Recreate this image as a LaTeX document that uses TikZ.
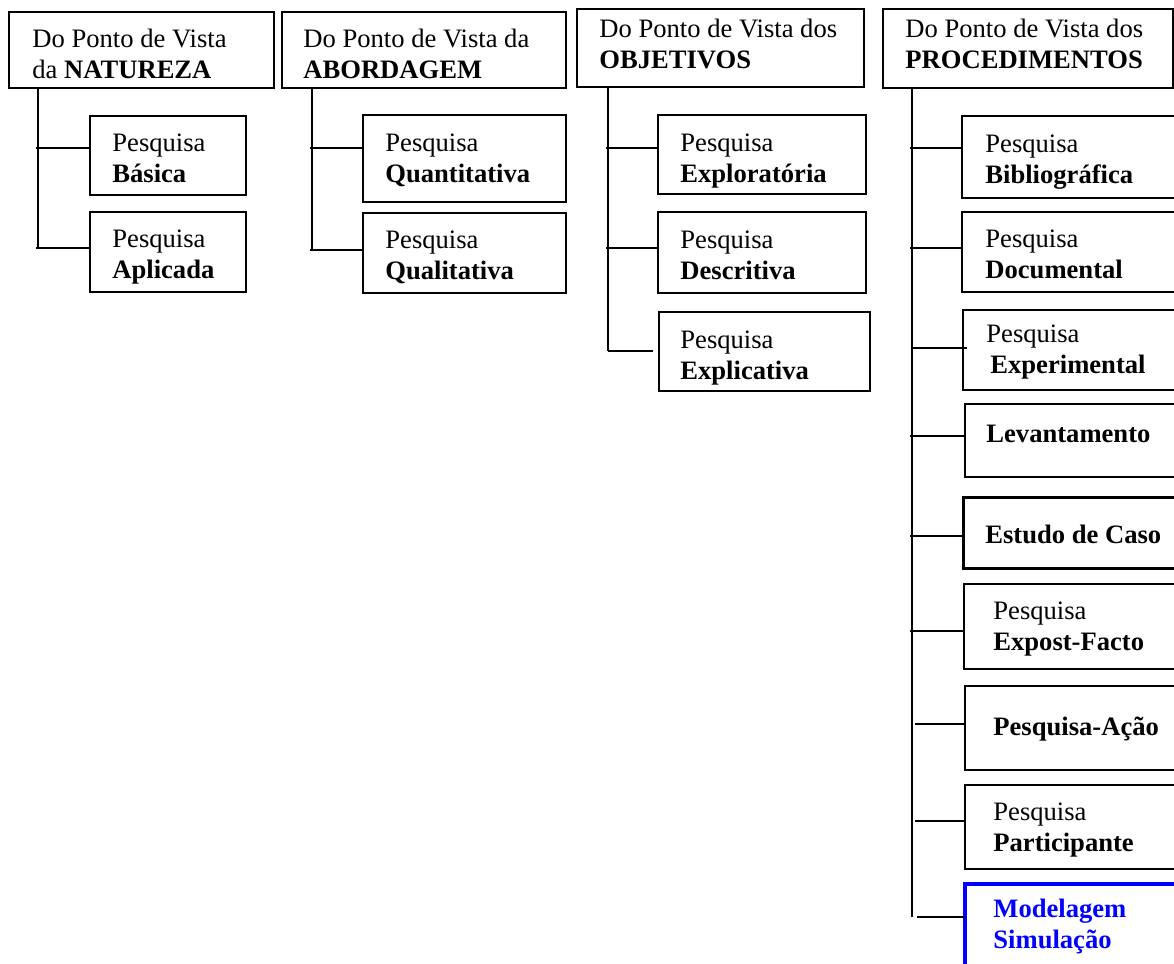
\documentclass[tikz,border=0pt]{standalone}
\usepackage{fontspec}
\setmainfont{Liberation Serif}
\usetikzlibrary{fit}
\definecolor{modblue}{RGB}{0,0,255}
\begin{document}
\begin{tikzpicture}[x=0.5pt,y=-0.5pt,
  box/.style={draw=black, line width=1pt, inner sep=0pt, outer sep=0pt},
  thickbox/.style={box, line width=1.5pt},
  bluebox/.style={box, draw=modblue, line width=1.6pt},
  txt/.style={anchor=base west, inner sep=0pt, align=left, font=\fontsize{13.3pt}{15.3pt}\selectfont},
  conn/.style={draw=black, line width=1pt}]
\useasboundingbox (0,0) rectangle (1174,964);

% headers (two-line texts are placed by the baseline of their last line)
\node[box, fit={(9,12) (274,88)}] (h1) {};
\node[box, fit={(282,12) (566,88)}] (h2) {};
\node[box, fit={(577,9) (864,87)}] (h3) {};
\node[box, fit={(883,9) (1173,88)}] (h4) {};
\node[txt] (h1t) at (32,78) {Do Ponto de Vista\\da \textbf{NATUREZA}};
\node[txt] (h2t) at (303,78) {Do Ponto de Vista da\\\textbf{ABORDAGEM}};
\node[txt] (h3t) at (599,68) {Do Ponto de Vista dos\\\textbf{OBJETIVOS}};
\node[txt] (h4t) at (905,68) {Do Ponto de Vista dos\\\textbf{PROCEDIMENTOS}};

% column 1
\node[box, fit={(90,116) (246,195)}] (a1) {};
\node[box, fit={(90,212) (246,292)}] (a2) {};
\node[txt] (a1t) at (112,182) {Pesquisa\\\textbf{Básica}};
\node[txt] (a2t) at (112,278) {Pesquisa\\\textbf{Aplicada}};

% column 2
\node[box, fit={(363,115) (566,202)}] (b1) {};
\node[box, fit={(363,213) (566,293)}] (b2) {};
\node[txt] (b1t) at (385,182) {Pesquisa\\\textbf{Quantitativa}};
\node[txt] (b2t) at (385,279) {Pesquisa\\\textbf{Qualitativa}};

% column 3
\node[box, fit={(658,115) (866,194)}] (c1) {};
\node[box, fit={(658,212) (866,293)}] (c2) {};
\node[box, fit={(659,312) (870,391)}] (c3) {};
\node[txt] (c1t) at (680,182) {Pesquisa\\\textbf{Exploratória}};
\node[txt] (c2t) at (680,279) {Pesquisa\\\textbf{Descritiva}};
\node[txt] (c3t) at (680,379) {Pesquisa\\\textbf{Explicativa}};

% column 4
\node[box, fit={(962,116) (1190,198)}] (d1) {};
\node[box, fit={(962,212) (1190,292)}] (d2) {};
\node[box, fit={(963,310) (1190,390)}] (d3) {};
\node[box, fit={(965,404) (1190,477)}] (d4) {};
\node[thickbox, fit={(963,497) (1190,568)}] (d5) {};
\node[box, fit={(964,584) (1190,669)}] (d6) {};
\node[box, fit={(965,686) (1190,770)}] (d7) {};
\node[box, fit={(965,785) (1190,869)}] (d8) {};
\node[bluebox, fit={(965,884) (1190,990)}] (d9) {};
\node[txt] (d1t) at (985,183) {Pesquisa\\\textbf{Bibliográfica}};
\node[txt] (d2t) at (985,278) {Pesquisa\\\textbf{Documental}};
\node[txt] (d3t) at (986,373) {Pesquisa\\\hspace*{2pt}\textbf{Experimental}};
\node[txt] (d4t) at (986,442) {\textbf{Levantamento}};
\node[txt] (d5t) at (985,543) {\textbf{Estudo de Caso}};
\node[txt] (d6t) at (993,650) {Pesquisa\\\textbf{Expost-Facto}};
\node[txt] (d7t) at (993,735) {\textbf{Pesquisa-Ação}};
\node[txt] (d8t) at (993,851) {Pesquisa\\\textbf{Participante}};
\node[txt, text=modblue] (d9t) at (993,948) {\textbf{Modelagem}\\\textbf{Simulação}};

% trunks
\coordinate (t1) at (38,248);
\coordinate (t2) at (312,250);
\coordinate (t3) at (608,351);
\coordinate (t4) at (912,917);
\draw[conn] (h1.south -| t1) -- (t1);
\draw[conn] (h2.south -| t2) -- (t2);
\draw[conn] (h3.south -| t3) -- (t3);
\draw[conn] (h4.south -| t4) -- (t4);

% branches
\draw[conn] ([xshift=-1pt]t1 |- 0,148) -- (a1.west |- 0,148);
\draw[conn] ([xshift=-1pt]t1 |- 0,248) -- (a2.west |- 0,248);
\draw[conn] ([xshift=-1pt]t2 |- 0,148) -- (b1.west |- 0,148);
\draw[conn] ([xshift=-1pt]t2 |- 0,250) -- (b2.west |- 0,250);
\draw[conn] ([xshift=-1pt]t3 |- 0,148) -- (c1.west |- 0,148);
\draw[conn] ([xshift=-1pt]t3 |- 0,248) -- (c2.west |- 0,248);
\draw[conn] (t3 |- 0,351) -- ([xshift=-3pt]c3.west |- 0,351);
\draw[conn] ([xshift=-1pt]t4 |- 0,148) -- (d1.west |- 0,148);
\draw[conn] ([xshift=-1pt]t4 |- 0,248) -- (d2.west |- 0,248);
\draw[conn] (t4 |- 0,348) -- ([xshift=2pt]d3.west |- 0,348);
\draw[conn] ([xshift=-1pt]t4 |- 0,436) -- (d4.west |- 0,436);
\draw[conn] ([xshift=-1pt]t4 |- 0,536) -- (d5.west |- 0,536);
\draw[conn] ([xshift=-1pt]t4 |- 0,631) -- (d6.west |- 0,631);
\draw[conn] ([xshift=1.5pt]t4 |- 0,724) -- (d7.west |- 0,724);
\draw[conn] ([xshift=1.5pt]t4 |- 0,821) -- (d8.west |- 0,821);
\draw[conn] ([xshift=2.5pt]t4 |- 0,917) -- (d9.west |- 0,917);
\end{tikzpicture}
\end{document}
